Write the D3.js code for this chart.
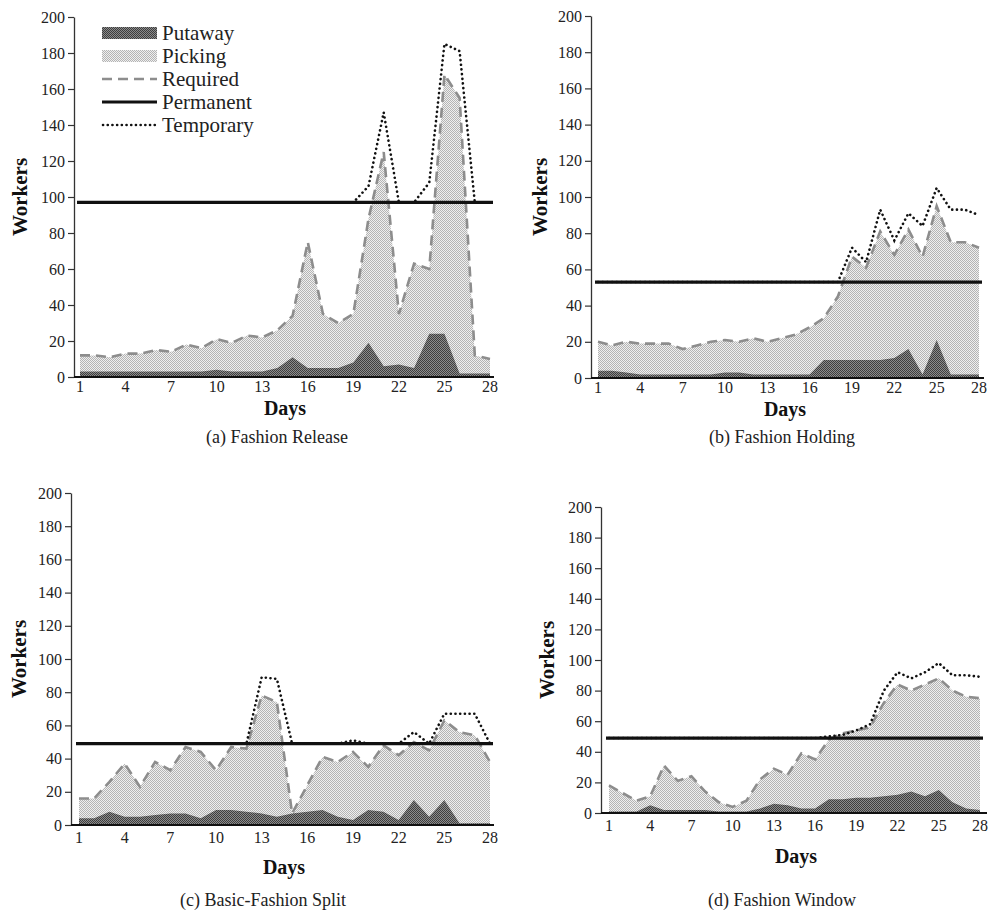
<!DOCTYPE html>
<html>
<head>
<meta charset="utf-8">
<script src="https://cdnjs.cloudflare.com/ajax/libs/d3/7.8.5/d3.min.js"></script>
<style>
    body { margin: 0; background: #fff; }
    svg { display: block; font-family: "Liberation Serif", "DejaVu Serif", serif; }
</style>
</head>
<body>
<svg id="svg-main" width="989" height="917"></svg>
<script>
var days = [1, 2, 3, 4, 5, 6, 7, 8, 9, 10, 11, 12, 13, 14, 15, 16, 17, 18, 19, 20, 21, 22, 23, 24, 25, 26, 27, 28];
var dayTicks = [1, 4, 7, 10, 13, 16, 19, 22, 25, 28];
var workerTicks = [0, 20, 40, 60, 80, 100, 120, 140, 160, 180, 200];
var legendNames = ["Putaway", "Picking", "Required", "Permanent", "Temporary"];

// (a) Fashion Release
var releasePutaway = [3, 3, 3, 3, 3, 3, 3, 3, 3, 4, 3, 3, 3, 5, 11, 5, 5, 5, 8, 19, 6, 7, 5, 24, 24, 2, 2, 2];
var releaseRequired = [12, 12, 11, 13, 13, 15, 14, 18, 16, 21, 19, 23, 22, 26, 34, 75, 35, 30, 35, 88, 125, 35, 63, 60, 168, 155, 12, 10];
var releaseTemporary = [97, 97, 97, 97, 97, 97, 97, 97, 97, 97, 97, 97, 97, 97, 97, 97, 97, 97, 97, 106, 147, 97, 97, 108, 185, 181, 97, 97];
var releasePermanent = 97;

// (b) Fashion Holding
var holdingPutaway = [4, 4, 3, 2, 2, 2, 2, 2, 2, 3, 3, 2, 2, 2, 2, 2, 10, 10, 10, 10, 10, 11, 16, 2, 21, 2, 2, 2];
var holdingRequired = [20, 18, 20, 19, 19, 19, 16, 18, 20, 21, 20, 22, 20, 22, 24, 28, 33, 45, 67, 61, 81, 68, 82, 67, 95, 75, 75, 72];
var holdingTemporary = [53, 53, 53, 53, 53, 53, 53, 53, 53, 53, 53, 53, 53, 53, 53, 53, 53, 53, 72, 64, 93, 76, 91, 84, 105, 93, 93, 90];
var holdingPermanent = 53;

// (c) Basic-Fashion Split
var splitPutaway = [4, 4, 8, 5, 5, 6, 7, 7, 4, 9, 9, 8, 7, 5, 7, 8, 9, 5, 3, 9, 8, 3, 15, 5, 15, 1, 1, 1];
var splitRequired = [16, 16, 26, 37, 23, 38, 33, 47, 44, 33, 47, 46, 78, 74, 7, 24, 41, 38, 44, 35, 48, 42, 50, 45, 63, 56, 54, 38];
var splitTemporary = [49, 49, 49, 49, 49, 49, 49, 49, 49, 49, 49, 49, 89, 88, 49, 49, 49, 49, 51, 49, 49, 49, 56, 49, 67, 67, 67, 49];
var splitPermanent = 49;

// (d) Fashion Window
var windowPutaway = [1, 1, 1, 5, 2, 2, 2, 2, 1, 1, 1, 3, 6, 5, 3, 3, 9, 9, 10, 10, 11, 12, 14, 11, 15, 7, 3, 2];
var windowRequired = [18, 13, 8, 11, 31, 21, 24, 14, 7, 4, 8, 22, 29, 25, 39, 35, 48, 52, 54, 56, 72, 84, 80, 84, 88, 80, 76, 75];
var windowTemporary = [49, 49, 49, 49, 49, 49, 49, 49, 49, 49, 49, 49, 49, 49, 49, 49, 50, 51, 54, 58, 80, 92, 88, 92, 98, 90, 90, 89];
var windowPermanent = 49;

var svg = d3.select("#svg-main");
var defs = svg.append("defs");

function checker(id, light, dark) {
    var p = defs.append("pattern")
        .attr("id", id)
        .attr("patternUnits", "userSpaceOnUse")
        .attr("width", 2)
        .attr("height", 2);
    p.append("rect").attr("width", 2).attr("height", 2).attr("fill", light);
    p.append("rect").attr("x", 0).attr("y", 0).attr("width", 1).attr("height", 1).attr("fill", dark);
    p.append("rect").attr("x", 1).attr("y", 1).attr("width", 1).attr("height", 1).attr("fill", dark);
}
checker("pick-pat", "#efefef", "#b4b4b4");
checker("put-pat", "#8c8c8c", "#3e3e3e");

var requiredStyle = { stroke: "#8d8d8d", width: 2.6, dash: "10,6" };
var temporaryStyle = { stroke: "#111", width: 2.6, dash: "0.1,4.6" };

var panels = [
    { putaway: releasePutaway, required: releaseRequired, temporary: releaseTemporary, permanent: releasePermanent,
      axisX: 74, x1: 80, x28: 490, xEnd: 494, y0: 377, yTop: 17, workersX: 27, daysX: 285, daysY: 415, tickY: 392,
      caption: "(a) Fashion Release", capX: 277, capY: 443, legend: true },
    { putaway: holdingPutaway, required: holdingRequired, temporary: holdingTemporary, permanent: holdingPermanent,
      axisX: 591, x1: 598, x28: 979, xEnd: 984, y0: 378, yTop: 16, workersX: 547, daysX: 785, daysY: 416, tickY: 393,
      caption: "(b) Fashion Holding", capX: 782, capY: 443 },
    { putaway: splitPutaway, required: splitRequired, temporary: splitTemporary, permanent: splitPermanent,
      axisX: 71, x1: 79, x28: 490, xEnd: 494, y0: 825, yTop: 493, workersX: 26, daysX: 284, daysY: 874, tickY: 843,
      caption: "(c) Basic-Fashion Split", capX: 263, capY: 906 },
    { putaway: windowPutaway, required: windowRequired, temporary: windowTemporary, permanent: windowPermanent,
      axisX: 601, x1: 609, x28: 980, xEnd: 987, y0: 813, yTop: 507, workersX: 554, daysX: 796, daysY: 863, tickY: 831,
      caption: "(d) Fashion Window", capX: 782, capY: 906 }
];

panels.forEach(drawPanel);

function drawPanel(p) {
    var g = svg.append("g");

    var x = d3.scaleLinear().domain([1, 28]).range([p.x1, p.x28]);
    var y = d3.scaleLinear().domain([0, 200]).range([p.y0, p.yTop]);

    var pickArea = d3.area()
        .x(function(d, i) { return x(days[i]); })
        .y0(y(0))
        .y1(function(d) { return y(d); });

    g.append("path")
        .datum(p.required)
        .attr("d", pickArea)
        .attr("fill", "url(#pick-pat)");

    g.append("path")
        .datum(p.putaway)
        .attr("d", pickArea)
        .attr("fill", "url(#put-pat)");

    var line = d3.line()
        .x(function(d, i) { return x(days[i]); })
        .y(function(d) { return y(d); });

    g.append("path")
        .datum(p.required)
        .attr("d", line)
        .attr("fill", "none")
        .attr("stroke", requiredStyle.stroke)
        .attr("stroke-width", requiredStyle.width)
        .attr("stroke-dasharray", requiredStyle.dash);

    g.append("path")
        .datum(p.temporary)
        .attr("d", line)
        .attr("fill", "none")
        .attr("stroke", temporaryStyle.stroke)
        .attr("stroke-width", temporaryStyle.width)
        .attr("stroke-linecap", "round")
        .attr("stroke-dasharray", temporaryStyle.dash);

    g.append("line")
        .attr("x1", x(1) - 3).attr("x2", x(28) + 3)
        .attr("y1", y(p.permanent)).attr("y2", y(p.permanent))
        .attr("stroke", "#111")
        .attr("stroke-width", 3.2);

    // y axis
    var yAxis = d3.axisLeft(y).tickValues(workerTicks).tickSize(6).tickSizeOuter(0).tickPadding(3);
    var ya = g.append("g")
        .attr("transform", "translate(" + p.axisX + ",0)")
        .call(yAxis);
    ya.select(".domain").attr("stroke", "#333").attr("stroke-width", 1.3);
    ya.selectAll(".tick line").attr("stroke", "#333").attr("stroke-width", 1.2);
    ya.selectAll(".tick text")
        .attr("font-family", "Liberation Serif")
        .attr("font-size", 16)
        .attr("fill", "#222");

    // x axis
    g.append("line")
        .attr("x1", p.axisX).attr("x2", p.xEnd)
        .attr("y1", p.y0).attr("y2", p.y0)
        .attr("stroke", "#111")
        .attr("stroke-width", 2);

    g.selectAll(".day-label")
        .data(dayTicks)
        .enter().append("text")
        .attr("class", "day-label")
        .attr("x", function(d) { return x(d); })
        .attr("y", p.tickY)
        .attr("text-anchor", "middle")
        .attr("font-size", 16)
        .attr("fill", "#222")
        .text(function(d) { return d; });

    g.append("text")
        .attr("x", p.daysX)
        .attr("y", p.daysY)
        .attr("text-anchor", "middle")
        .attr("font-size", 20)
        .attr("font-weight", "bold")
        .attr("fill", "#111")
        .text("Days");

    g.append("text")
        .attr("transform", "translate(" + p.workersX + "," + ((p.y0 + p.yTop) / 2) + ") rotate(-90)")
        .attr("text-anchor", "middle")
        .attr("font-size", 21)
        .attr("font-weight", "bold")
        .attr("fill", "#111")
        .text("Workers");

    g.append("text")
        .attr("x", p.capX)
        .attr("y", p.capY)
        .attr("text-anchor", "middle")
        .attr("font-size", 18)
        .attr("fill", "#222")
        .text(p.caption);

    if (p.legend) drawLegend(g);
}

function drawLegend(g) {
    var lx = 102, lw = 55, top = 33, step = 23;
    var leg = g.append("g").attr("class", "legend");

    leg.selectAll("text")
        .data(legendNames)
        .enter().append("text")
        .attr("x", lx + lw + 5)
        .attr("y", function(d, i) { return top + i * step + 7; })
        .attr("font-size", 21)
        .attr("fill", "#222")
        .text(function(d) { return d; });

    leg.append("rect")
        .attr("x", lx).attr("y", top - 6).attr("width", lw).attr("height", 12)
        .attr("fill", "url(#put-pat)");
    leg.append("rect")
        .attr("x", lx).attr("y", top + step - 6).attr("width", lw).attr("height", 12)
        .attr("fill", "url(#pick-pat)");
    leg.append("line")
        .attr("x1", lx).attr("x2", lx + lw)
        .attr("y1", top + 2 * step).attr("y2", top + 2 * step)
        .attr("stroke", requiredStyle.stroke)
        .attr("stroke-width", requiredStyle.width)
        .attr("stroke-dasharray", requiredStyle.dash);
    leg.append("line")
        .attr("x1", lx).attr("x2", lx + lw)
        .attr("y1", top + 3 * step).attr("y2", top + 3 * step)
        .attr("stroke", "#111")
        .attr("stroke-width", 3.2);
    leg.append("line")
        .attr("x1", lx + 1).attr("x2", lx + lw)
        .attr("y1", top + 4 * step).attr("y2", top + 4 * step)
        .attr("stroke", temporaryStyle.stroke)
        .attr("stroke-width", temporaryStyle.width)
        .attr("stroke-linecap", "round")
        .attr("stroke-dasharray", temporaryStyle.dash);
}
</script>
</body>
</html>
